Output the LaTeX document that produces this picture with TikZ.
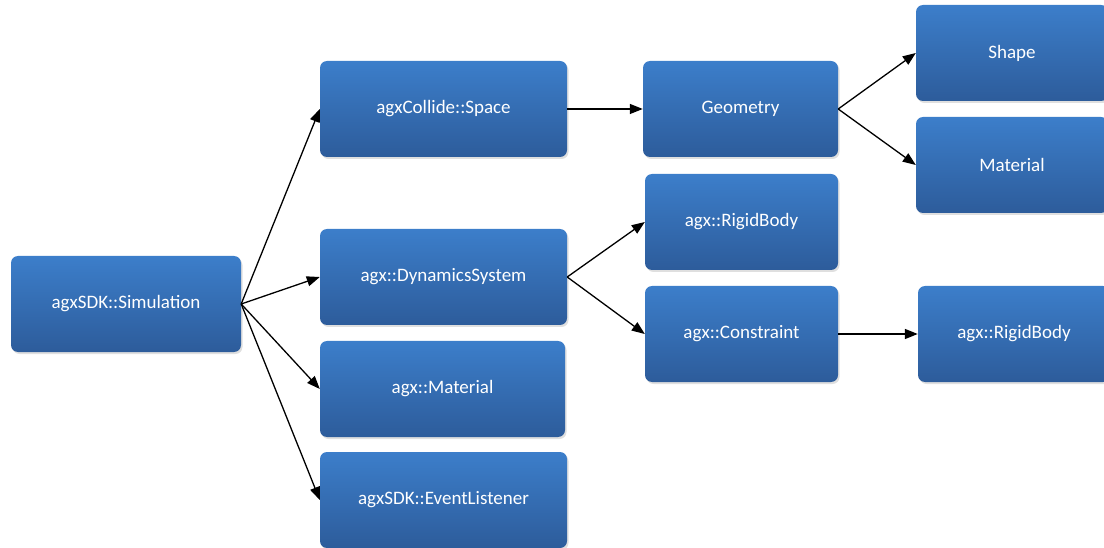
\documentclass[tikz,border=0pt]{standalone}
\usepackage{fontspec}
\setmainfont{Carlito}
\usetikzlibrary{arrows.meta,shadows}
\definecolor{boxtop}{RGB}{60,126,202}
\definecolor{boxbot}{RGB}{45,92,155}
\tikzset{
  box/.style={rounded corners=7pt, top color=boxtop, bottom color=boxbot,
    draw=none, text=white, font=\fontsize{19}{22}\selectfont,
    minimum height=96pt, inner sep=0pt,
    drop shadow={shadow xshift=1.5pt, shadow yshift=-2pt, opacity=0.25}},
  link/.style={line width=1.3pt, -{Triangle[length=13pt,width=10pt]}}
}
\begin{document}
\begin{tikzpicture}[x=1pt,y=-1pt]
\useasboundingbox (0,0) rectangle (1104,548);
% simulation root
\node[box, minimum width=230pt] (sim) at (126,304) {agxSDK::Simulation};
% first level
\node[box, minimum width=247pt] (space) at (443.5,109) {agxCollide::Space};
\node[box, minimum width=247pt] (dyn) at (443.5,277) {agx::DynamicsSystem};
\node[box, minimum width=245pt] (mat) at (442.5,389) {agx::Material};
\node[box, minimum width=247pt] (evt) at (443.5,500) {agxSDK::EventListener};
% second level
\node[box, minimum width=195pt] (geom) at (740.5,109) {Geometry};
\node[box, minimum width=193pt] (rb) at (741.5,222) {agx::RigidBody};
\node[box, minimum width=193pt] (con) at (741.5,334) {agx::Constraint};
% third level
\node[box, minimum width=192pt] (shape) at (1012,53) {Shape};
\node[box, minimum width=192pt] (gmat) at (1012,165) {Material};
\node[box, minimum width=192pt] (rb2) at (1014,334) {agx::RigidBody};
% connectors
\draw[link] (sim.east) -- (space.west);
\draw[link] (sim.east) -- (dyn.west);
\draw[link] (sim.east) -- (mat.west);
\draw[link] (sim.east) -- (evt.west);
\draw[link] (space.east) -- (geom.west);
\draw[link] (geom.east) -- (shape.west);
\draw[link] (geom.east) -- (gmat.west);
\draw[link] (dyn.east) -- (rb.west);
\draw[link] (dyn.east) -- (con.west);
\draw[link] (con.east) -- (rb2.west);
\end{tikzpicture}
\end{document}
